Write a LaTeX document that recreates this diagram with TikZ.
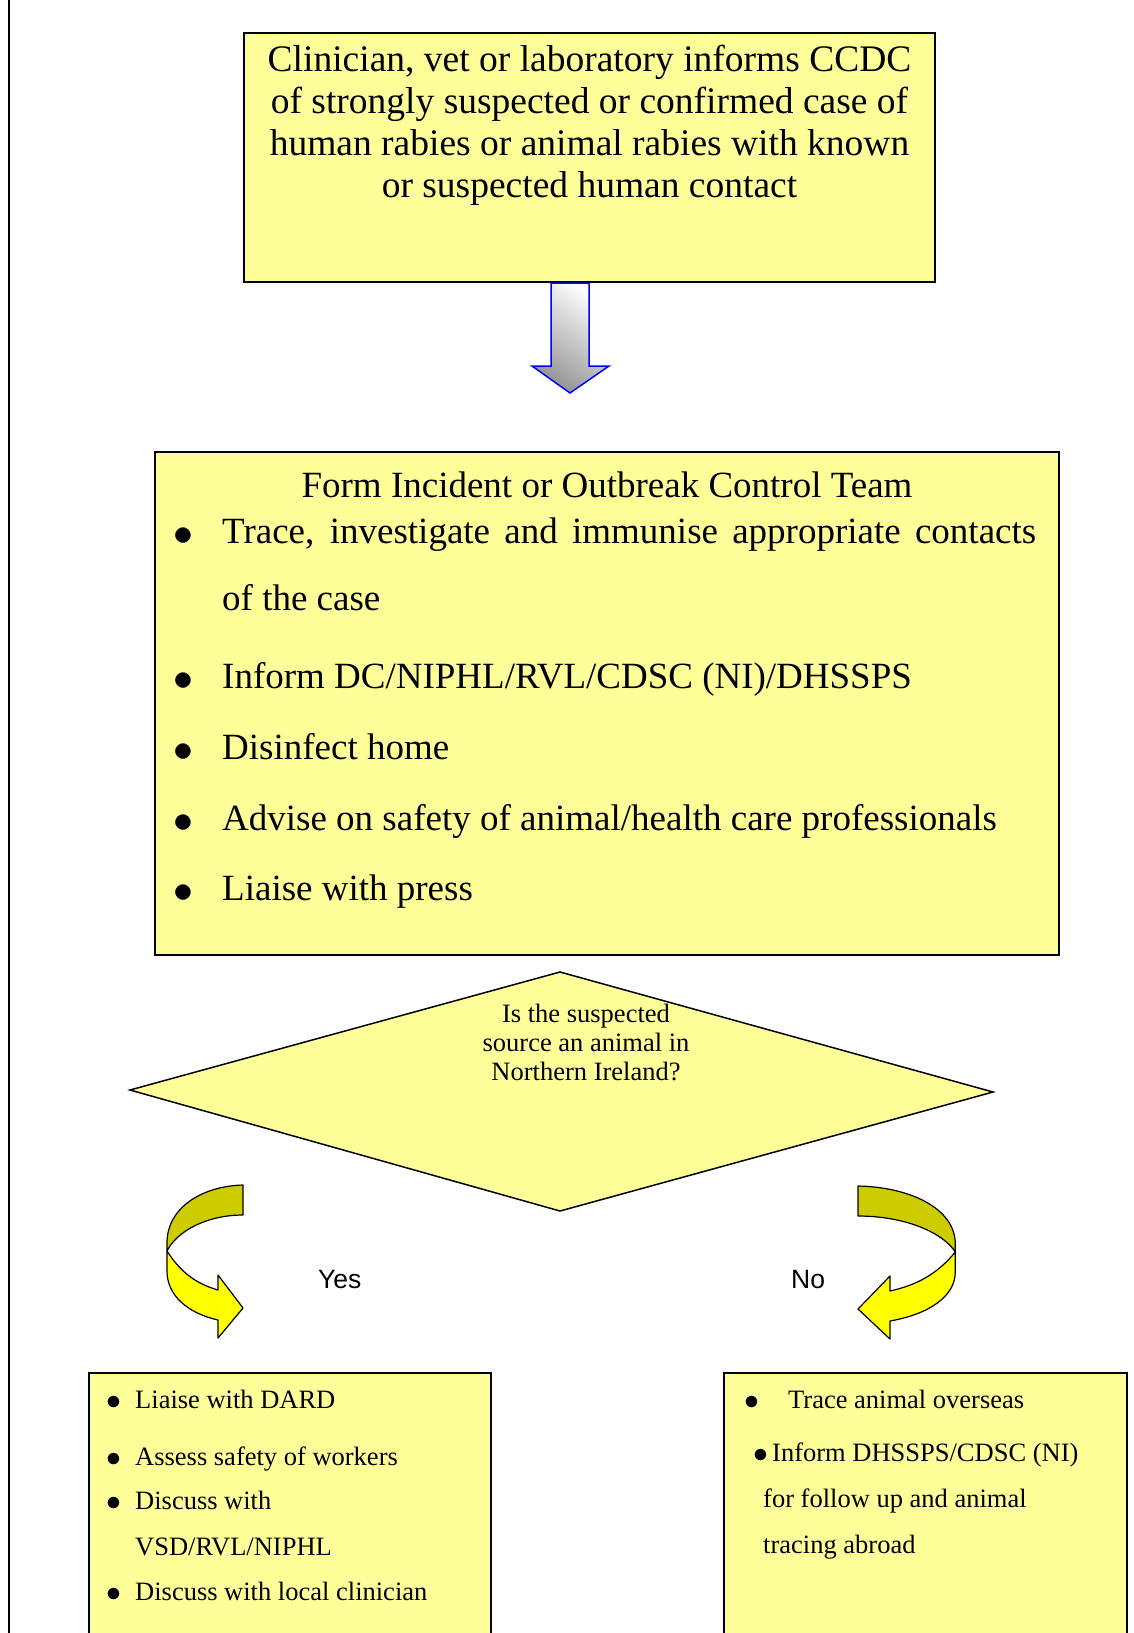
\documentclass[tikz,border=0pt]{standalone}
\usepackage{fontspec}
\setmainfont{Liberation Serif}
\newfontfamily\arialfont{Liberation Sans}
\usepackage{xcolor}
\usepackage{tikz}
\usetikzlibrary{positioning}

\definecolor{paleyellow}{HTML}{FFFF99}
\definecolor{bandback}{HTML}{CCCC00}
\definecolor{bandfront}{HTML}{FFFF00}

\newcommand{\bigfont}{\fontsize{37.5}{42}\selectfont}
\newcommand{\teamfont}{\fontsize{37}{42}\selectfont}
\newcommand{\midfont}{\fontsize{26.5}{30}\selectfont}
\newcommand{\smallfont}{\fontsize{26.5}{30}\selectfont}
\newcommand{\blt}[3][1]{\makebox[#2][l]{\raisebox{-0.06em}{\scalebox{#1}{$\bullet$}}}#3}

\begin{document}
\begin{tikzpicture}[x=1pt, y=-1pt,
    box/.style={draw=black, line width=1.5pt, fill=paleyellow},
    txt/.style={inner sep=0pt, anchor=base west},
    ctxt/.style={inner sep=0pt, anchor=base},
    bandedge/.style={draw=black, line width=1.2pt, line join=round}]
        \useasboundingbox (0, 0) rectangle (1134, 1633);
        \draw[line width=2.5pt] (9, 0) -- (9, 1633);

        % first box
        \draw[box] (244, 33) rectangle (935, 282);
        \node[ctxt] (inf1) at (589.5, 71) {\bigfont Clinician, vet or laboratory informs CCDC};
        \node[ctxt] (inf2) at (589.5, 113) {\bigfont of strongly suspected or confirmed case of};
        \node[ctxt] (inf3) at (589.5, 155) {\bigfont human rabies or animal rabies with known};
        \node[ctxt] (inf4) at (589.5, 197) {\bigfont or suspected human contact};

        % block arrow down
        \shadedraw[draw=blue, line width=1.5pt, line join=miter,
            top color=white, bottom color=gray!85, shading angle=-35]
            (551, 283) -- (551, 366) -- (532, 366) -- (570, 393)
            -- (609, 366) -- (589, 366) -- (589, 283) -- cycle;

        % team box
        \draw[box] (155, 452) rectangle (1059, 955);
        \node[ctxt] (team) at (607, 497) {\teamfont Form Incident or Outbreak Control Team};
        \node[txt] (act1) at (173, 543) {\teamfont\blt[1.6]{49pt}{\makebox[814pt][s]{Trace, investigate and immunise appropriate contacts}}};
        \node[txt] (act1b) at (222, 610) {\teamfont of the case};
        \node[txt] (act2) at (173, 688) {\teamfont\blt[1.6]{49pt}{Inform DC/NIPHL/RVL/CDSC (NI)/DHSSPS}};
        \node[txt] (act3) at (173, 759) {\teamfont\blt[1.6]{49pt}{Disinfect home}};
        \node[txt] (act4) at (173, 830) {\teamfont\blt[1.6]{49pt}{Advise on safety of animal/health care professionals}};
        \node[txt] (act5) at (173, 900) {\teamfont\blt[1.6]{49pt}{Liaise with press}};

        % decision
        \draw[box] (560, 972) -- (993, 1092) -- (560, 1211) -- (130, 1090) -- cycle;
        \node[ctxt] (ask1) at (586, 1022) {\midfont Is the suspected};
        \node[ctxt] (ask2) at (586, 1051) {\midfont source an animal in};
        \node[ctxt] (ask3) at (586, 1080) {\midfont Northern Ireland?};

        % curved arrow, yes
        \begin{scope}[shift={(243, 1185)}]
        \filldraw[bandedge, fill=bandback] (0, 0) .. controls (-40, 1) and (-76, 22) .. (-76, 58)
            -- (-76, 66) .. controls (-66, 46) and (-36, 30) .. (0, 30) -- cycle;
        \filldraw[bandedge, fill=bandfront] (-76, 66) .. controls (-62, 88) and (-46, 99) .. (-25, 105)
            -- (-25, 90) -- (0, 123) -- (-25, 153) -- (-25, 135)
            .. controls (-56, 128) and (-76, 110) .. (-76, 86) -- cycle;
        \end{scope}
        \node[txt] (yes) at (318, 1288) {\arialfont\fontsize{26.5}{30}\selectfont Yes};

        % curved arrow, no
        \begin{scope}[shift={(858, 1186)}, xscale=-1.28]
        \filldraw[bandedge, fill=bandback] (0, 0) .. controls (-40, 1) and (-76, 22) .. (-76, 58)
            -- (-76, 66) .. controls (-66, 46) and (-36, 30) .. (0, 30) -- cycle;
        \filldraw[bandedge, fill=bandfront] (-76, 66) .. controls (-62, 88) and (-46, 99) .. (-25, 105)
            -- (-25, 90) -- (0, 123) -- (-25, 153) -- (-25, 135)
            .. controls (-56, 128) and (-76, 110) .. (-76, 86) -- cycle;
        \end{scope}
        \node[txt] (no) at (791, 1288) {\arialfont\fontsize{26.5}{30}\selectfont No};

        % yes box
        \draw[box] (89, 1373) rectangle (491, 1660);
        \node[txt] (yes1) at (106, 1408) {\smallfont\blt[1.2]{29pt}{Liaise with DARD}};
        \node[txt] (yes2) at (106, 1465) {\smallfont\blt[1.2]{29pt}{Assess safety of workers}};
        \node[txt] (yes3) at (106, 1509) {\smallfont\blt[1.2]{29pt}{Discuss with}};
        \node[txt] (yes3b) at (135, 1555) {\smallfont VSD/RVL/NIPHL};
        \node[txt] (yes4) at (106, 1600) {\smallfont\blt[1.2]{29pt}{Discuss with local clinician}};

        % no box
        \draw[box] (724, 1373) rectangle (1127, 1660);
        \node[txt] (no1) at (744, 1408) {\smallfont\blt[1.2]{44pt}{Trace animal overseas}};
        \node[txt] (no2) at (753, 1461) {\smallfont\blt[1.2]{19pt}{Inform DHSSPS/CDSC (NI)}};
        \node[txt] (no2b) at (763, 1507) {\smallfont for follow up and animal};
        \node[txt] (no2c) at (763, 1553) {\smallfont tracing abroad};
\end{tikzpicture}
\end{document}
